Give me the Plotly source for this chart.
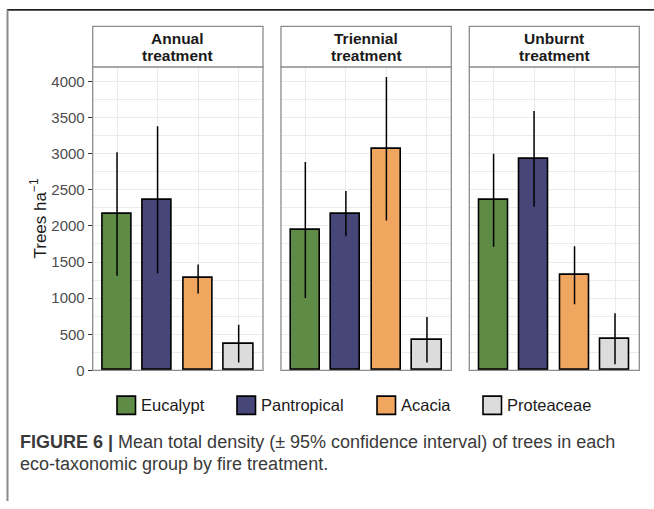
import plotly.graph_objects as go

# ---- data -------------------------------------------------------------
treatments = ["Annual", "Triennial", "Unburnt"]
groups = ["Eucalypt", "Pantropical", "Acacia", "Proteaceae"]
group_colors = ["#5E8B45", "#474679", "#F0A65F", "#DCDCDC"]

# mean density (trees per ha) and 95% CI bounds, per treatment, in group order
mean_annual = [2170, 2360, 1275, 372]
lower_annual = [1310, 1343, 1063, 109]
upper_annual = [3020, 3380, 1466, 631]

mean_triennial = [1943, 2170, 3069, 426]
lower_triennial = [1003, 1857, 2075, 109]
upper_triennial = [2883, 2484, 4060, 740]

mean_unburnt = [2357, 2933, 1321, 440]
lower_unburnt = [1711, 2266, 917, 86]
upper_unburnt = [2997, 3591, 1717, 790]

means = [mean_annual, mean_triennial, mean_unburnt]
lowers = [lower_annual, lower_triennial, lower_unburnt]
uppers = [upper_annual, upper_triennial, upper_unburnt]

y_ticks = [0, 500, 1000, 1500, 2000, 2500, 3000, 3500, 4000]

# ---- layout helpers (pixel -> paper) ------------------------------------
W, H = 654, 509


def px(x):
    return x / W


def py(y):
    return 1 - y / H


panel_x = [(92.7, 263.0), (281.0, 451.3), (469.3, 639.3)]
panel_top, panel_bottom = 68.0, 376.3
strip_top = 26.7
border_col = "#8C8C8C"
grid_col = "#EBEBEB"
sans = "Liberation Sans, Arial, sans-serif"

fig = go.Figure()
layout = {}
shapes = []
annotations = []

for i, name in enumerate(treatments):
    ax = "" if i == 0 else str(i + 1)
    xs = list(range(1, len(groups) + 1))
    m = means[i]
    err_up = [u - v for u, v in zip(uppers[i], m)]
    err_dn = [v - l for v, l in zip(m, lowers[i])]
    fig.add_trace(go.Bar(
        x=xs, y=m, width=0.72,
        marker=dict(color=group_colors, line=dict(color="#000000", width=1.6)),
        error_y=dict(type="data", symmetric=False, array=err_up, arrayminus=err_dn,
                     width=0, thickness=1.5, color="#000000"),
        xaxis="x" + ax, yaxis="y" + ax, showlegend=False,
        hovertemplate="%{y}<extra></extra>",
    ))
    x0, x1 = panel_x[i]
    layout["xaxis" + ax] = dict(
        domain=[px(x0), px(x1)], range=[0.4, 4.6], anchor="y" + ax,
        tickvals=xs, showticklabels=False, ticks="",
        showgrid=True, gridcolor=grid_col, gridwidth=1.1, zeroline=False,
        showline=False, fixedrange=True,
    )
    yax = dict(
        domain=[py(panel_bottom), py(panel_top)], range=[0, 4200], anchor="x" + ax,
        tickvals=y_ticks, showgrid=True, gridcolor=grid_col, gridwidth=1.1,
        minor=dict(dtick=250, tick0=0, showgrid=True, gridcolor=grid_col, gridwidth=0.6),
        zeroline=False, showline=False, fixedrange=True,
    )
    if i == 0:
        yax.update(ticks="outside", ticklen=4, tickwidth=1.1, tickcolor="#333333",
                   showticklabels=True,
                   tickfont=dict(family=sans, size=15, color="#4D4D4D"))
    else:
        yax.update(showticklabels=False, ticks="")
    layout["yaxis" + ax] = yax

    # panel border
    shapes.append(dict(type="rect", xref="paper", yref="paper",
                       x0=px(x0), x1=px(x1), y0=py(panel_bottom), y1=py(panel_top),
                       line=dict(color=border_col, width=1.3), fillcolor="rgba(0,0,0,0)",
                       layer="above"))
    # facet strip
    shapes.append(dict(type="rect", xref="paper", yref="paper",
                       x0=px(x0), x1=px(x1), y0=py(panel_top), y1=py(strip_top),
                       line=dict(color=border_col, width=1.3), fillcolor="#FFFFFF"))
    xc = px((x0 + x1) / 2)
    for text, yc in ((name, 39.5), ("treatment", 56.5)):
        annotations.append(dict(
            text="<b>" + text + "</b>", x=xc, y=py(yc), xref="paper", yref="paper",
            xanchor="center", yanchor="middle", showarrow=False,
            font=dict(family=sans, size=15.5, color="#1A1A1A"),
        ))

# y-axis title
annotations.append(dict(
    text="Trees ha<sup>−1</sup>", x=px(38), y=py(222), xref="paper", yref="paper",
    xanchor="center", yanchor="middle", textangle=-90, showarrow=False,
    font=dict(family=sans, size=17, color="#1A1A1A"),
))

# legend (keys + labels)
key_x = [117, 237, 377, 483]
key_top, key_size = 402.5, 18.5
for k, (g, c) in enumerate(zip(groups, group_colors)):
    kx = key_x[k]
    shapes.append(dict(type="rect", xref="paper", yref="paper",
                       x0=px(kx), x1=px(kx + key_size),
                       y0=py(key_top + key_size), y1=py(key_top),
                       fillcolor=c, line=dict(color="#000000", width=1.6)))
    annotations.append(dict(
        text=g, x=px(kx + key_size + 3), y=py(key_top + key_size / 2),
        xref="paper", yref="paper", xanchor="left", yanchor="middle", showarrow=False,
        font=dict(family=sans, size=16.5, color="#1A1A1A"),
    ))

# caption
cap_font = dict(family=sans, size=18, color="#3A3A3A")
annotations.append(dict(
    text="<b>FIGURE 6 |</b> Mean total density (± 95% confidence interval) of trees in each",
    x=px(18), y=py(449), xref="paper", yref="paper", xanchor="left", yanchor="middle",
    showarrow=False, font=cap_font,
))
annotations.append(dict(
    text="eco-taxonomic group by fire treatment.",
    x=px(18), y=py(471), xref="paper", yref="paper", xanchor="left", yanchor="middle",
    showarrow=False, font=cap_font,
))

# figure frame: dark rule on top, grey rule on the left
shapes.append(dict(type="line", xref="paper", yref="paper",
                   x0=px(7), x1=px(654), y0=py(10), y1=py(10),
                   line=dict(color="#222222", width=1.6)))
shapes.append(dict(type="line", xref="paper", yref="paper",
                   x0=px(7.5), x1=px(7.5), y0=py(10), y1=py(509),
                   line=dict(color="#8A8A8A", width=2)))

fig.update_layout(
    width=W, height=H, margin=dict(l=0, r=0, t=0, b=0),
    paper_bgcolor="#FFFFFF", plot_bgcolor="#FFFFFF",
    bargap=0, shapes=shapes, annotations=annotations, showlegend=False,
    **layout,
)

fig.write_html("out.html")
